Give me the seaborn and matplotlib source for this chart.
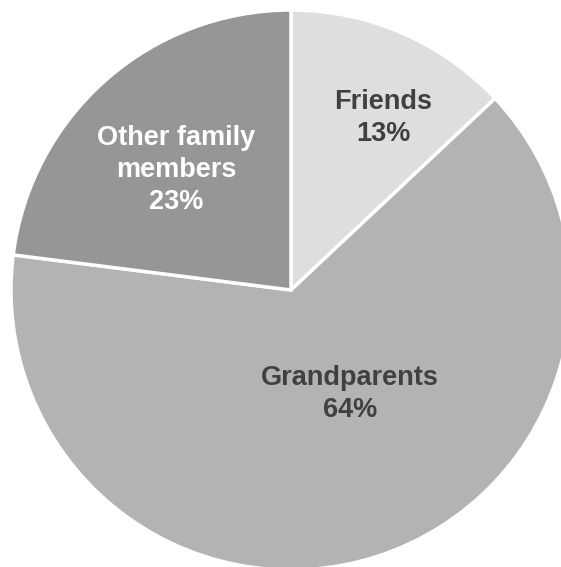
import seaborn as sns
import matplotlib.pyplot as plt

# data
categories = ['Friends', 'Grandparents', 'Other family\nmembers']
shares = [13, 64, 23]
colors = ['#dedede', '#b3b3b3', '#969696']
text_colors = ['#404040', '#404040', '#ffffff']
# label anchor points (pie units) for each slice
label_pos = [(0.33, 0.615), (0.21, -0.37), (-0.41, 0.43)]

sns.set_theme(style='white')
plt.rcParams['font.family'] = ['Liberation Sans', 'DejaVu Sans']

fig = plt.figure(figsize=(5.61, 5.67), dpi=100)
ax = fig.add_axes([0, 0, 1, 1])
ax.pie(shares, colors=colors, startangle=90, counterclock=False, radius=1,
       wedgeprops={'edgecolor': 'white', 'linewidth': 2.5})

for name, pct, tc, (x, y) in zip(categories, shares, text_colors, label_pos):
    ax.text(x, y, f'{name}\n{pct}%', ha='center', va='center', color=tc,
            fontsize=19.5, fontweight='bold', linespacing=1.3)

# place centre at (291, 290) px with radius 280 px
ax.set_xlim(-291 / 280, (561 - 291) / 280)
ax.set_ylim((290 - 567) / 280, 290 / 280)
ax.set_aspect('auto')
ax.axis('off')

fig.savefig('out.png', dpi=100, facecolor='white')
